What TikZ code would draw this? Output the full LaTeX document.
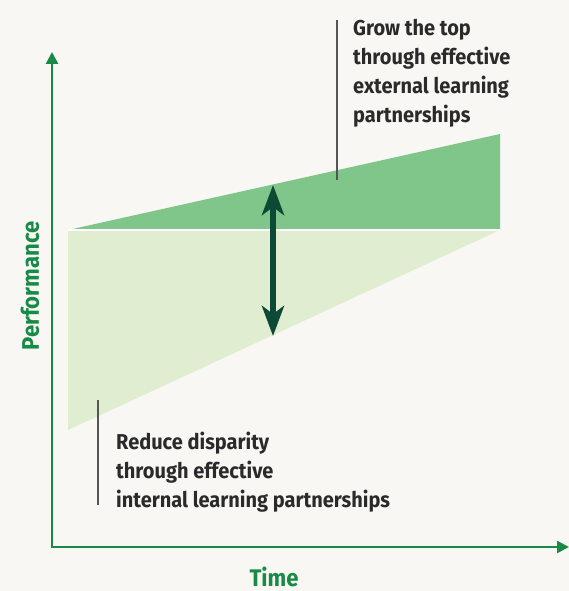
\documentclass[tikz,border=0pt]{standalone}
\usepackage{fontspec}
\setmainfont{Fira Sans}[FakeStretch=0.93]
\newfontfamily\axisfont{Fira Sans}[FakeStretch=0.92]
\usetikzlibrary{arrows.meta}
\definecolor{bgcream}{HTML}{F8F7F3}
\definecolor{axisgreen}{HTML}{178A45}
\definecolor{topgreen}{HTML}{80C68A}
\definecolor{lowgreen}{HTML}{E1EDD1}
\definecolor{gapgreen}{HTML}{0D4A36}
\definecolor{notegray}{HTML}{555555}
\definecolor{notetext}{HTML}{2A2A2A}
\tikzset{
  axisline/.style={draw=axisgreen, line width=2.6pt, -{Triangle[length=12pt,width=12pt]}},
  axislabel/.style={text=axisgreen, font=\axisfont\bfseries\fontsize{24}{28}\selectfont},
  notetxt/.style={text=notetext, align=left, anchor=north west, inner sep=0pt,
    font=\bfseries\fontsize{21.5}{29}\selectfont},
  noteline/.style={draw=notegray, line width=1.2pt},
}
\begin{document}
\begin{tikzpicture}[x=1pt,y=-1pt]
    \fill[bgcream] (0,0) rectangle (569,591);
    \useasboundingbox (0,0) rectangle (569,591);
    % fills
    \fill[lowgreen] (68,230) -- (500,230) -- (68,430) -- cycle;
    \fill[topgreen] (68,230) -- (500,134) -- (500,230) -- cycle;
    \draw[white, line width=1.2pt] (68,230) -- (500,230);
    % axes
    \coordinate (origin) at (52,547);
    \coordinate (ytip) at (52,52);
    \coordinate (xtip) at (569,547);
    \draw[axisline] (origin) -- (ytip);
    \draw[axisline] ([xshift=-1.3pt]origin) -- (xtip);
    \node[axislabel, rotate=90] (perf) at (30,286) {Performance};
    \node[axislabel, anchor=base] (time) at (274,586) {Time};
    % gap arrow
    \coordinate (gaptop) at (273,185);
    \coordinate (gapbot) at (273,336);
    \draw[gapgreen, line width=5.5pt, {Stealth[length=30pt,width=22pt,inset=8pt]}-{Stealth[length=30pt,width=22pt,inset=8pt]}] (gaptop) -- (gapbot);
    % notes
    \coordinate (topa) at (337,20);
    \coordinate (topb) at (337,180);
    \draw[noteline] (topa) -- (topb);
    \node[notetxt] (grow) at (353,19) {Grow the top\\through effective\\external learning\\partnerships};
    \coordinate (lowa) at (98,400);
    \coordinate (lowb) at (98,505);
    \draw[noteline] (lowa) -- (lowb);
    \node[notetxt] (reduce) at (116,432) {Reduce disparity\\through effective\\internal learning partnerships};
\end{tikzpicture}
\end{document}
